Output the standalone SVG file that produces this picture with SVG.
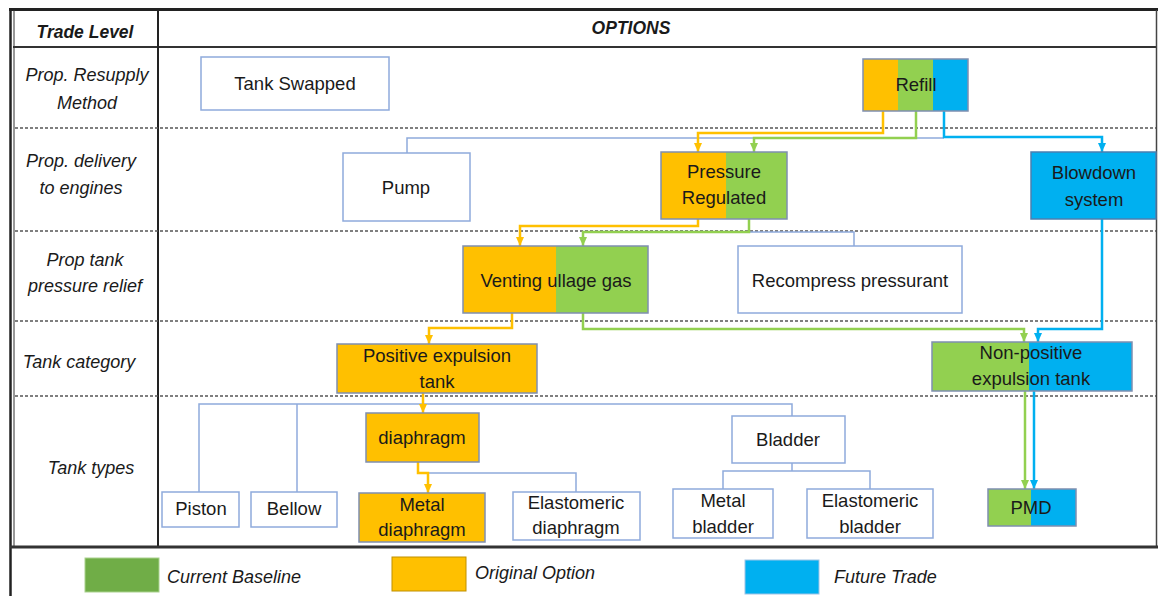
<svg xmlns="http://www.w3.org/2000/svg" width="1159" height="596" viewBox="0 0 1159 596">
<style>
text{font-family:"Liberation Sans",Arial,sans-serif;fill:#1a1a1a;}
.n{font-size:18.5px;text-anchor:middle;}
.h{font-size:18px;font-style:italic;text-anchor:middle;}
.hb{font-size:17.5px;font-style:italic;font-weight:bold;text-anchor:middle;}
.lg{font-size:18px;font-style:italic;}
.wb{fill:#fff;stroke:#8FAADC;stroke-width:1.5;}
.ob{fill:none;stroke:#7F8FB0;stroke-width:1.5;}
.dash{stroke:#555;stroke-width:1.3;stroke-dasharray:3 2;fill:none;}
.co{fill:none;stroke:#FFC000;stroke-width:2.5;marker-end:url(#ao);}
.cg{fill:none;stroke:#92D050;stroke-width:2.5;marker-end:url(#ag);}
.cb{fill:none;stroke:#00B0F0;stroke-width:2.5;marker-end:url(#ab);}
.cl{fill:none;stroke:#8FAADC;stroke-width:1.5;}
</style>
<defs>
<marker id="ao" markerUnits="userSpaceOnUse" markerWidth="10" markerHeight="8" refX="9" refY="4" orient="auto"><path d="M0,0 L9,4 L0,8 Z" fill="#FFC000"/></marker>
<marker id="ag" markerUnits="userSpaceOnUse" markerWidth="10" markerHeight="8" refX="9" refY="4" orient="auto"><path d="M0,0 L9,4 L0,8 Z" fill="#92D050"/></marker>
<marker id="ab" markerUnits="userSpaceOnUse" markerWidth="10" markerHeight="8" refX="9" refY="4" orient="auto"><path d="M0,0 L9,4 L0,8 Z" fill="#00B0F0"/></marker>
</defs>
<rect width="1159" height="596" fill="#fff"/>
<g id="table">
<line x1="9" y1="9.5" x2="1158" y2="9.5" stroke="#222" stroke-width="3"/>
<line x1="13" y1="47" x2="1157" y2="47" stroke="#333" stroke-width="2"/>
<line x1="10.5" y1="8" x2="10.5" y2="596" stroke="#222" stroke-width="2.5"/>
<line x1="14" y1="10" x2="14" y2="547" stroke="#333" stroke-width="1"/>
<line x1="158" y1="10" x2="158" y2="547" stroke="#222" stroke-width="2"/>
<line x1="1156.5" y1="10" x2="1156.5" y2="547" stroke="#444" stroke-width="1.5"/>
<line x1="10" y1="547" x2="1158" y2="547" stroke="#333" stroke-width="3"/>
<line class="dash" x1="15" y1="128" x2="1156" y2="128"/>
<line class="dash" x1="15" y1="231" x2="1156" y2="231"/>
<line class="dash" x1="15" y1="321" x2="1156" y2="321"/>
<line class="dash" x1="15" y1="396" x2="1156" y2="396"/>
<text class="hb" x="85" y="38">Trade Level</text>
<text class="hb" x="631" y="34">OPTIONS</text>
<text class="h" x="87" y="81">Prop. Resupply</text>
<text class="h" x="87" y="109">Method</text>
<text class="h" x="81" y="167">Prop. delivery</text>
<text class="h" x="81" y="194">to engines</text>
<text class="h" x="85" y="266">Prop tank</text>
<text class="h" x="85" y="292">pressure relief</text>
<text class="h" x="79" y="368">Tank category</text>
<text class="h" x="91" y="474">Tank types</text>
</g>
<g id="connectors">
<path class="cl" d="M407,153 V138 H944"/>
<path class="cl" d="M749,232 H854 V246"/>
<path class="cl" d="M199,492 V404 H792 V416"/>
<path class="cl" d="M297,404 V492"/>
<path class="cl" d="M428,473 H576 V492"/>
<path class="cl" d="M792,463 V471"/>
<path class="cl" d="M723,489 V471 H870 V489"/>
<path class="co" d="M883,111 V133 H698 V152"/>
<path class="co" d="M698,219 V226 H520 V246"/>
<path class="co" d="M512,313 V328 H429 V344"/>
<path class="co" d="M423,393 V413"/>
<path class="co" d="M418,462 V473 H428 V493"/>
<path class="cg" d="M916,111 V138 H754 V152"/>
<path class="cg" d="M749,219 V232 H583 V246"/>
<path class="cg" d="M583,313 V329 H1024 V342"/>
<path class="cg" d="M1025,391 V489"/>
<path class="cb" d="M944,111 V137 H1102 V152"/>
<path class="cb" d="M1102,219 V329 H1038 V342"/>
<path class="cb" d="M1034,391 V489"/>
</g>
<g id="tank-swapped"><rect class="wb" x="201" y="57" width="188" height="53"/><text class="n" x="295" y="90">Tank Swapped</text></g>
<g id="refill">
<rect x="863" y="59" width="35" height="52" fill="#FFC000"/><rect x="898" y="59" width="35" height="52" fill="#92D050"/><rect x="933" y="59" width="35" height="52" fill="#00B0F0"/>
<rect class="ob" x="863" y="59" width="105" height="52"/><text class="n" x="916" y="91">Refill</text></g>
<g id="pump"><rect class="wb" x="343" y="153" width="127" height="68"/><text class="n" x="406" y="194">Pump</text></g>
<g id="pressure-regulated">
<rect x="661" y="152" width="65" height="67" fill="#FFC000"/><rect x="726" y="152" width="61" height="67" fill="#92D050"/>
<rect class="ob" x="661" y="152" width="126" height="67"/>
<text class="n" x="724" y="178">Pressure</text><text class="n" x="724" y="204">Regulated</text></g>
<g id="blowdown"><rect x="1031" y="152" width="125" height="67" fill="#00B0F0" stroke="#4A7FB0" stroke-width="1.5"/>
<text class="n" x="1094" y="179">Blowdown</text><text class="n" x="1094" y="206">system</text></g>
<g id="venting">
<rect x="463" y="246" width="93" height="67" fill="#FFC000"/><rect x="556" y="246" width="92" height="67" fill="#92D050"/>
<rect class="ob" x="463" y="246" width="185" height="67"/><text class="n" x="556" y="287">Venting ullage gas</text></g>
<g id="recompress"><rect class="wb" x="738" y="246" width="224" height="67"/><text class="n" x="850" y="287">Recompress pressurant</text></g>
<g id="positive-expulsion"><rect x="337" y="344" width="200" height="49" fill="#FFC000" stroke="#7F8FB0" stroke-width="1.5"/>
<text class="n" x="437" y="362">Positive expulsion</text><text class="n" x="437" y="388">tank</text></g>
<g id="non-positive">
<rect x="932" y="342" width="97" height="49" fill="#92D050"/><rect x="1029" y="342" width="103" height="49" fill="#00B0F0"/>
<rect class="ob" x="932" y="342" width="200" height="49"/>
<text class="n" x="1031" y="359">Non-positive</text><text class="n" x="1031" y="385">expulsion tank</text></g>
<g id="diaphragm"><rect x="366" y="413" width="113" height="49" fill="#FFC000" stroke="#7F8FB0" stroke-width="1.5"/><text class="n" x="422" y="444">diaphragm</text></g>
<g id="bladder"><rect class="wb" x="732" y="416" width="113" height="47"/><text class="n" x="788" y="446">Bladder</text></g>
<g id="piston"><rect class="wb" x="162" y="492" width="77" height="35"/><text class="n" x="201" y="515">Piston</text></g>
<g id="bellow"><rect class="wb" x="251" y="492" width="86" height="35"/><text class="n" x="294" y="515">Bellow</text></g>
<g id="metal-diaphragm"><rect x="359" y="493" width="126" height="49" fill="#FFC000" stroke="#7F8FB0" stroke-width="1.5"/>
<text class="n" x="422" y="511">Metal</text><text class="n" x="422" y="536">diaphragm</text></g>
<g id="elastomeric-diaphragm"><rect class="wb" x="513" y="492" width="127" height="48"/>
<text class="n" x="576" y="509">Elastomeric</text><text class="n" x="576" y="534">diaphragm</text></g>
<g id="metal-bladder"><rect class="wb" x="673" y="489" width="100" height="49"/>
<text class="n" x="723" y="507">Metal</text><text class="n" x="723" y="533">bladder</text></g>
<g id="elastomeric-bladder"><rect class="wb" x="807" y="489" width="126" height="49"/>
<text class="n" x="870" y="507">Elastomeric</text><text class="n" x="870" y="533">bladder</text></g>
<g id="pmd">
<rect x="988" y="489" width="43" height="37" fill="#92D050"/><rect x="1031" y="489" width="45" height="37" fill="#00B0F0"/>
<rect class="ob" x="988" y="489" width="88" height="37"/><text class="n" x="1031" y="514">PMD</text></g>
<g id="legend">
<rect x="85" y="558" width="74" height="34" fill="#70AD47" stroke="#A9D18E" stroke-width="1"/>
<text class="lg" x="167" y="583">Current Baseline</text>
<rect x="392" y="557" width="74" height="34" fill="#FFC000" stroke="#BF9000" stroke-width="1"/>
<text class="lg" x="475" y="579">Original Option</text>
<rect x="745" y="560" width="74" height="34" fill="#00B0F0" stroke="#9DC3E6" stroke-width="1"/>
<text class="lg" x="834" y="583">Future Trade</text>
</g>
</svg>
